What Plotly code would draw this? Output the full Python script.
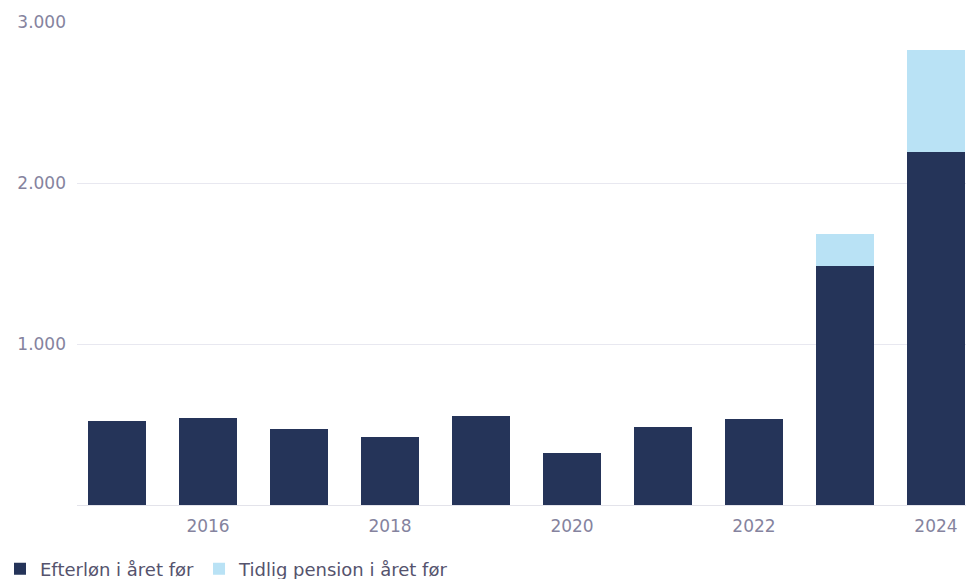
import plotly.graph_objects as go

years = [2015, 2016, 2017, 2018, 2019, 2020, 2021, 2022, 2023, 2024]
efterlon = [522, 540, 472, 422, 553, 323, 484, 534, 1482, 2190]
tidlig = [0, 0, 0, 0, 0, 0, 0, 0, 200, 636]
x_ticks = [2016, 2018, 2020, 2022, 2024]
y_ticks = [1000, 2000, 3000]

dark = "#253459"
light = "#b9e2f5"
label_color = "#85839e"
legend_color = "#55536d"
font_family = "DejaVu Sans, Noto Sans, sans-serif"

fig = go.Figure()
fig.add_trace(go.Bar(x=years, y=efterlon, name="Efterløn i året før",
                     marker=dict(color=dark, line=dict(width=0)), width=0.64))
fig.add_trace(go.Bar(x=years, y=tidlig, name="Tidlig pension i året før",
                     marker=dict(color=light, line=dict(width=0)), width=0.64))

fig.update_layout(
    barmode="stack",
    width=966, height=579,
    margin=dict(l=77, r=0, t=22, b=74),
    paper_bgcolor="white", plot_bgcolor="white",
    separators=",.",
    font=dict(family=font_family, color=label_color, size=16),
    showlegend=True,
    legend=dict(orientation="h", xref="container", yref="container",
                x=0, xanchor="left", y=0.017, yanchor="middle",
                font=dict(size=18, color=legend_color, family=font_family), itemwidth=30,
                traceorder="normal", bgcolor="rgba(0,0,0,0)"),
    xaxis=dict(range=[2014.56, 2024.33], tickvals=x_ticks, ticks="",
               showgrid=False, zeroline=False, showline=True,
               linecolor="#e3e3ea", linewidth=1, ticklabelstandoff=6,
               tickfont=dict(size=17, color=label_color, family=font_family)),
    yaxis=dict(range=[0, 3000], tickvals=y_ticks, tickformat=",d", ticks="",
               showgrid=True, gridcolor="#e8e8f0", gridwidth=1,
               zeroline=False, showline=False, ticklabelstandoff=10,
               tickfont=dict(size=17, color=label_color, family=font_family)),
)

fig.write_html("out.html", config={"displayModeBar": False},
               post_script="document.body.style.margin='0px';document.body.style.overflow='hidden';")
